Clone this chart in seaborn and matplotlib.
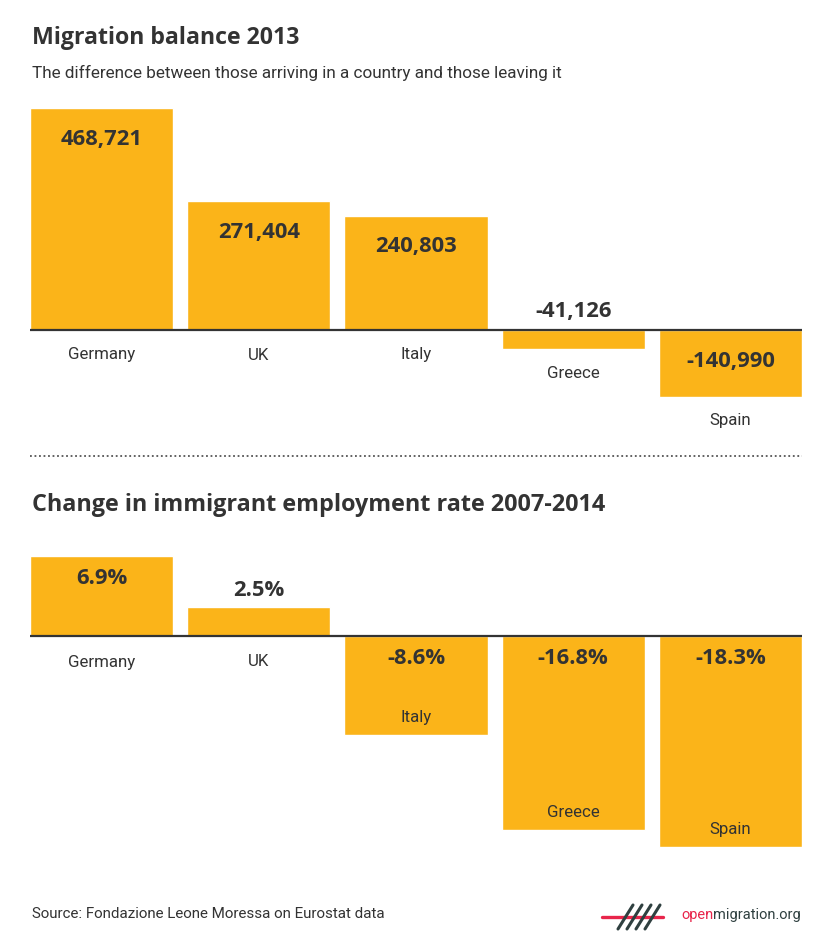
import seaborn as sns
import matplotlib.pyplot as plt
import matplotlib.lines as mlines
import pandas as pd

sns.set_theme(style="white")
plt.rcParams["font.family"] = ["Roboto", "DejaVu Sans"]

# 数据
countries = ["Germany", "UK", "Italy", "Greece", "Spain"]
balance_2013 = [468721, 271404, 240803, -41126, -140990]
employment_change = [6.9, 2.5, -8.6, -16.8, -18.3]

BAR = "#FBB419"
DARK = "#333333"
RED = "#E8254B"
LOGO = "#2F4040"
TITLE_FONT = ["Open Sans", "DejaVu Sans"]

W, H = 830, 950
fig = plt.figure(figsize=(W / 100, H / 100), dpi=100)


def px_axes(top, bottom, left=30, right=802):
    # 像素坐标 -> figure 坐标
    return fig.add_axes([left / W, 1 - bottom / H, (right - left) / W, (bottom - top) / H])


def panel(ax, values, labels, ylim, val_in, val_out, name_pos, name_neg_out, name_neg_in,
          inside_min, name_inside_min):
    df = pd.DataFrame({"country": countries, "value": values})
    sns.barplot(data=df, x="country", y="value", order=countries, color=BAR,
                saturation=1, width=0.91, ax=ax)
    ax.set_xlim(-0.455, 4.455)
    ax.set_ylim(*ylim)
    ax.axhline(0, color=DARK, lw=1.6, zorder=5)
    ax.axis("off")
    # 每单位对应的像素
    ppu = ax.bbox.height / (ylim[1] - ylim[0])
    for i, (v, lab) in enumerate(zip(values, labels)):
        h = abs(v) * ppu
        if v >= 0:
            if h > inside_min:
                vy, vxy = -val_in, (i, v)
            else:
                vy, vxy = val_out, (i, v)
            ny, nxy = -name_pos, (i, 0)
        else:
            if h > inside_min:
                vy, vxy = -val_in, (i, 0)
            else:
                vy, vxy = val_out, (i, 0)
            if h > name_inside_min:
                ny, nxy = name_neg_in, (i, v)
            else:
                ny, nxy = -name_neg_out, (i, v)
        ax.annotate(lab, xy=vxy, xytext=(0, vy), textcoords="offset pixels",
                    ha="center", va="center", fontsize=15.8, fontweight="bold",
                    color=DARK, family=TITLE_FONT, zorder=6)
        ax.annotate(countries[i], xy=nxy, xytext=(0, ny), textcoords="offset pixels",
                    ha="center", va="center", fontsize=12.2, color=DARK, zorder=6)


# 标题
fig.text(32 / W, 1 - 38 / H, "Migration balance 2013", fontsize=16.7, fontweight="bold",
         color=DARK, family=TITLE_FONT, va="center")
fig.text(32 / W, 1 - 73 / H, "The difference between those arriving in a country and those leaving it",
         fontsize=12.3, color=DARK, va="center")

# 图一：迁移差额
ax1 = px_axes(100, 440)
s1 = 222 / 468721
panel(ax1, balance_2013, [f"{v:,}" for v in balance_2013],
      (-(440 - 330) / s1, (330 - 100) / s1),
      val_in=31, val_out=18, name_pos=25, name_neg_out=24, name_neg_in=18,
      inside_min=40, name_inside_min=80)

# 分隔虚线
fig.add_artist(mlines.Line2D([30 / W, 802 / W], [1 - 456 / H] * 2, color="#555555",
                             lw=1.3, linestyle=(0, (1, 1.5))))

fig.text(32 / W, 1 - 505 / H, "Change in immigrant employment rate 2007-2014", fontsize=16.8,
         fontweight="bold", color=DARK, family=TITLE_FONT, va="center")

# 图二：就业率变化
ax2 = px_axes(540, 870)
s2 = 11.55
panel(ax2, employment_change, [f"{v}%" for v in employment_change],
      (-(870 - 636) / s2, (636 - 540) / s2),
      val_in=22, val_out=17, name_pos=26, name_neg_out=24, name_neg_in=18,
      inside_min=40, name_inside_min=80)

# 来源
fig.text(32 / W, 1 - 914 / H, "Source: Fondazione Leone Moressa on Eurostat data",
         fontsize=10.9, color=DARK, va="center")

# logo
fig.add_artist(mlines.Line2D([602 / W, 663 / W], [1 - 917 / H] * 2, color=RED, lw=2.4))
for xb, xt in [(618, 633), (627, 642), (636, 651), (645, 660)]:
    fig.add_artist(mlines.Line2D([xb / W, xt / W], [1 - 929 / H, 1 - 905 / H],
                                 color=LOGO, lw=2.2, solid_capstyle="round"))
t_open = fig.text(681 / W, 1 - 915 / H, "open", fontsize=10.5, color=RED, va="center")
fig.add_artist(plt.Annotation("migration.org", xy=(1, 0.5), xycoords=t_open, va="center",
                              ha="left", fontsize=10.5, color=LOGO))

fig.savefig("out.png", dpi=100, facecolor="white")
